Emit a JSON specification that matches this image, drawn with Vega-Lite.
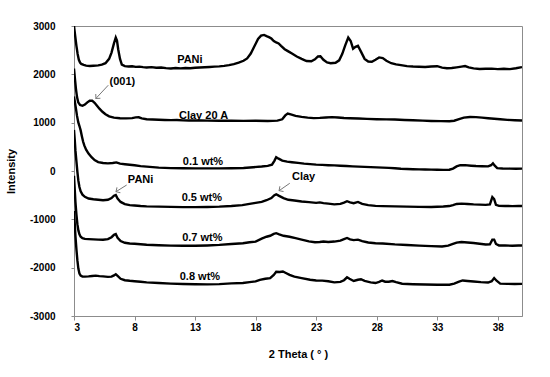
{
"$schema": "https://vega.github.io/schema/vega-lite/v6.json",
"width": 448, "height": 290,
"autosize": "none",
"padding": {"left": 74, "top": 26, "right": 28, "bottom": 61},
"background": "white",
"config": {"view": {"stroke": "#8c8c8c", "strokeWidth": 1}, "font": "Liberation Sans"},
"layer": [
{
"data": {"values": [
{"s":"PANi","x":3.0,"y":3000},{"s":"PANi","x":3.1,"y":2790},{"s":"PANi","x":3.2,"y":2590},{"s":"PANi","x":3.3,"y":2420},{"s":"PANi","x":3.4,"y":2300},{"s":"PANi","x":3.5,"y":2245},{"s":"PANi","x":3.6,"y":2215},{"s":"PANi","x":3.8,"y":2195},{"s":"PANi","x":4.0,"y":2180},{"s":"PANi","x":4.3,"y":2172},{"s":"PANi","x":4.6,"y":2178},{"s":"PANi","x":5.0,"y":2185},{"s":"PANi","x":5.3,"y":2200},{"s":"PANi","x":5.6,"y":2230},{"s":"PANi","x":5.9,"y":2320},{"s":"PANi","x":6.1,"y":2450},{"s":"PANi","x":6.3,"y":2640},{"s":"PANi","x":6.45,"y":2760},{"s":"PANi","x":6.55,"y":2700},{"s":"PANi","x":6.65,"y":2520},{"s":"PANi","x":6.8,"y":2320},{"s":"PANi","x":6.95,"y":2200},{"s":"PANi","x":7.2,"y":2170},{"s":"PANi","x":7.5,"y":2162},{"s":"PANi","x":7.8,"y":2168},{"s":"PANi","x":8.1,"y":2155},{"s":"PANi","x":8.4,"y":2160},{"s":"PANi","x":8.7,"y":2148},{"s":"PANi","x":9.0,"y":2142},{"s":"PANi","x":9.4,"y":2150},{"s":"PANi","x":9.8,"y":2135},{"s":"PANi","x":10.2,"y":2140},{"s":"PANi","x":10.6,"y":2128},{"s":"PANi","x":11.0,"y":2122},{"s":"PANi","x":11.4,"y":2132},{"s":"PANi","x":11.8,"y":2124},{"s":"PANi","x":12.2,"y":2130},{"s":"PANi","x":12.6,"y":2126},{"s":"PANi","x":13.0,"y":2136},{"s":"PANi","x":13.4,"y":2140},{"s":"PANi","x":13.8,"y":2146},{"s":"PANi","x":14.2,"y":2152},{"s":"PANi","x":14.6,"y":2160},{"s":"PANi","x":15.0,"y":2165},{"s":"PANi","x":15.4,"y":2175},{"s":"PANi","x":15.8,"y":2190},{"s":"PANi","x":16.2,"y":2210},{"s":"PANi","x":16.6,"y":2240},{"s":"PANi","x":17.0,"y":2280},{"s":"PANi","x":17.3,"y":2330},{"s":"PANi","x":17.6,"y":2430},{"s":"PANi","x":17.9,"y":2580},{"s":"PANi","x":18.2,"y":2730},{"s":"PANi","x":18.45,"y":2800},{"s":"PANi","x":18.7,"y":2815},{"s":"PANi","x":18.9,"y":2790},{"s":"PANi","x":19.1,"y":2770},{"s":"PANi","x":19.3,"y":2740},{"s":"PANi","x":19.5,"y":2690},{"s":"PANi","x":19.7,"y":2660},{"s":"PANi","x":19.9,"y":2640},{"s":"PANi","x":20.1,"y":2590},{"s":"PANi","x":20.4,"y":2520},{"s":"PANi","x":20.7,"y":2475},{"s":"PANi","x":21.0,"y":2430},{"s":"PANi","x":21.4,"y":2370},{"s":"PANi","x":21.8,"y":2320},{"s":"PANi","x":22.2,"y":2275},{"s":"PANi","x":22.6,"y":2270},{"s":"PANi","x":22.9,"y":2310},{"s":"PANi","x":23.15,"y":2370},{"s":"PANi","x":23.35,"y":2375},{"s":"PANi","x":23.6,"y":2300},{"s":"PANi","x":23.9,"y":2245},{"s":"PANi","x":24.2,"y":2230},{"s":"PANi","x":24.6,"y":2240},{"s":"PANi","x":24.9,"y":2290},{"s":"PANi","x":25.15,"y":2420},{"s":"PANi","x":25.4,"y":2600},{"s":"PANi","x":25.65,"y":2760},{"s":"PANi","x":25.85,"y":2690},{"s":"PANi","x":26.05,"y":2530},{"s":"PANi","x":26.25,"y":2570},{"s":"PANi","x":26.45,"y":2590},{"s":"PANi","x":26.7,"y":2470},{"s":"PANi","x":27.0,"y":2320},{"s":"PANi","x":27.3,"y":2265},{"s":"PANi","x":27.6,"y":2260},{"s":"PANi","x":27.9,"y":2300},{"s":"PANi","x":28.2,"y":2350},{"s":"PANi","x":28.5,"y":2335},{"s":"PANi","x":28.8,"y":2280},{"s":"PANi","x":29.2,"y":2230},{"s":"PANi","x":29.6,"y":2205},{"s":"PANi","x":30.0,"y":2190},{"s":"PANi","x":30.5,"y":2170},{"s":"PANi","x":31.0,"y":2162},{"s":"PANi","x":31.5,"y":2158},{"s":"PANi","x":32.0,"y":2152},{"s":"PANi","x":32.5,"y":2162},{"s":"PANi","x":33.0,"y":2168},{"s":"PANi","x":33.4,"y":2140},{"s":"PANi","x":33.8,"y":2126},{"s":"PANi","x":34.2,"y":2132},{"s":"PANi","x":34.6,"y":2145},{"s":"PANi","x":35.0,"y":2160},{"s":"PANi","x":35.3,"y":2172},{"s":"PANi","x":35.6,"y":2145},{"s":"PANi","x":36.0,"y":2122},{"s":"PANi","x":36.5,"y":2110},{"s":"PANi","x":37.0,"y":2116},{"s":"PANi","x":37.5,"y":2118},{"s":"PANi","x":38.0,"y":2108},{"s":"PANi","x":38.5,"y":2115},{"s":"PANi","x":39.0,"y":2108},{"s":"PANi","x":39.5,"y":2125},{"s":"PANi","x":40.0,"y":2150},
{"s":"Clay","x":3.0,"y":2120},{"s":"Clay","x":3.08,"y":1900},{"s":"Clay","x":3.16,"y":1700},{"s":"Clay","x":3.25,"y":1530},{"s":"Clay","x":3.35,"y":1420},{"s":"Clay","x":3.5,"y":1365},{"s":"Clay","x":3.7,"y":1350},{"s":"Clay","x":3.9,"y":1375},{"s":"Clay","x":4.1,"y":1420},{"s":"Clay","x":4.3,"y":1455},{"s":"Clay","x":4.5,"y":1455},{"s":"Clay","x":4.7,"y":1410},{"s":"Clay","x":4.9,"y":1350},{"s":"Clay","x":5.1,"y":1290},{"s":"Clay","x":5.35,"y":1225},{"s":"Clay","x":5.6,"y":1175},{"s":"Clay","x":5.9,"y":1130},{"s":"Clay","x":6.3,"y":1105},{"s":"Clay","x":6.8,"y":1092},{"s":"Clay","x":7.3,"y":1088},{"s":"Clay","x":7.8,"y":1095},{"s":"Clay","x":8.1,"y":1110},{"s":"Clay","x":8.35,"y":1112},{"s":"Clay","x":8.6,"y":1090},{"s":"Clay","x":9.0,"y":1072},{"s":"Clay","x":9.5,"y":1065},{"s":"Clay","x":10,"y":1060},{"s":"Clay","x":10.5,"y":1056},{"s":"Clay","x":11,"y":1052},{"s":"Clay","x":11.5,"y":1054},{"s":"Clay","x":12,"y":1048},{"s":"Clay","x":12.5,"y":1046},{"s":"Clay","x":13,"y":1044},{"s":"Clay","x":13.5,"y":1046},{"s":"Clay","x":14,"y":1042},{"s":"Clay","x":15,"y":1040},{"s":"Clay","x":16,"y":1042},{"s":"Clay","x":17,"y":1038},{"s":"Clay","x":18,"y":1040},{"s":"Clay","x":19,"y":1036},{"s":"Clay","x":19.8,"y":1042},{"s":"Clay","x":20.2,"y":1070},{"s":"Clay","x":20.45,"y":1150},{"s":"Clay","x":20.65,"y":1190},{"s":"Clay","x":20.9,"y":1170},{"s":"Clay","x":21.3,"y":1140},{"s":"Clay","x":21.8,"y":1120},{"s":"Clay","x":22.3,"y":1105},{"s":"Clay","x":22.8,"y":1095},{"s":"Clay","x":23.3,"y":1100},{"s":"Clay","x":23.8,"y":1108},{"s":"Clay","x":24.3,"y":1115},{"s":"Clay","x":24.8,"y":1108},{"s":"Clay","x":25.3,"y":1098},{"s":"Clay","x":25.8,"y":1092},{"s":"Clay","x":26.5,"y":1086},{"s":"Clay","x":27.2,"y":1078},{"s":"Clay","x":28,"y":1072},{"s":"Clay","x":28.8,"y":1068},{"s":"Clay","x":29.5,"y":1064},{"s":"Clay","x":30.3,"y":1056},{"s":"Clay","x":31,"y":1050},{"s":"Clay","x":31.8,"y":1042},{"s":"Clay","x":32.5,"y":1036},{"s":"Clay","x":33.3,"y":1032},{"s":"Clay","x":34.0,"y":1030},{"s":"Clay","x":34.4,"y":1040},{"s":"Clay","x":34.8,"y":1075},{"s":"Clay","x":35.2,"y":1105},{"s":"Clay","x":35.7,"y":1118},{"s":"Clay","x":36.2,"y":1115},{"s":"Clay","x":36.7,"y":1105},{"s":"Clay","x":37.2,"y":1092},{"s":"Clay","x":37.7,"y":1080},{"s":"Clay","x":38.2,"y":1070},{"s":"Clay","x":38.8,"y":1058},{"s":"Clay","x":39.4,"y":1050},{"s":"Clay","x":40,"y":1045},
{"s":"w01","x":3.0,"y":1540},{"s":"w01","x":3.08,"y":1420},{"s":"w01","x":3.16,"y":1290},{"s":"w01","x":3.25,"y":1140},{"s":"w01","x":3.35,"y":1010},{"s":"w01","x":3.45,"y":930},{"s":"w01","x":3.55,"y":840},{"s":"w01","x":3.65,"y":720},{"s":"w01","x":3.75,"y":610},{"s":"w01","x":3.85,"y":530},{"s":"w01","x":4.0,"y":440},{"s":"w01","x":4.2,"y":360},{"s":"w01","x":4.45,"y":285},{"s":"w01","x":4.7,"y":225},{"s":"w01","x":5.0,"y":185},{"s":"w01","x":5.4,"y":165},{"s":"w01","x":5.8,"y":158},{"s":"w01","x":6.2,"y":165},{"s":"w01","x":6.5,"y":178},{"s":"w01","x":6.8,"y":152},{"s":"w01","x":7.2,"y":140},{"s":"w01","x":7.6,"y":128},{"s":"w01","x":8.0,"y":118},{"s":"w01","x":8.5,"y":102},{"s":"w01","x":9.0,"y":90},{"s":"w01","x":9.5,"y":80},{"s":"w01","x":10,"y":70},{"s":"w01","x":10.5,"y":64},{"s":"w01","x":11,"y":60},{"s":"w01","x":12,"y":56},{"s":"w01","x":13,"y":55},{"s":"w01","x":14,"y":55},{"s":"w01","x":15,"y":54},{"s":"w01","x":16,"y":56},{"s":"w01","x":17,"y":62},{"s":"w01","x":17.8,"y":78},{"s":"w01","x":18.5,"y":92},{"s":"w01","x":19.0,"y":105},{"s":"w01","x":19.35,"y":130},{"s":"w01","x":19.55,"y":210},{"s":"w01","x":19.7,"y":285},{"s":"w01","x":19.9,"y":255},{"s":"w01","x":20.2,"y":215},{"s":"w01","x":20.6,"y":195},{"s":"w01","x":21,"y":182},{"s":"w01","x":21.5,"y":168},{"s":"w01","x":22,"y":152},{"s":"w01","x":22.5,"y":142},{"s":"w01","x":23,"y":132},{"s":"w01","x":23.5,"y":126},{"s":"w01","x":24,"y":120},{"s":"w01","x":24.5,"y":116},{"s":"w01","x":25,"y":108},{"s":"w01","x":25.5,"y":102},{"s":"w01","x":26,"y":95},{"s":"w01","x":26.5,"y":90},{"s":"w01","x":27,"y":85},{"s":"w01","x":27.5,"y":80},{"s":"w01","x":28,"y":74},{"s":"w01","x":28.5,"y":70},{"s":"w01","x":29,"y":64},{"s":"w01","x":29.5,"y":56},{"s":"w01","x":30,"y":46},{"s":"w01","x":30.5,"y":40},{"s":"w01","x":31,"y":36},{"s":"w01","x":31.5,"y":33},{"s":"w01","x":32,"y":30},{"s":"w01","x":32.5,"y":28},{"s":"w01","x":33,"y":26},{"s":"w01","x":33.5,"y":24},{"s":"w01","x":34,"y":26},{"s":"w01","x":34.3,"y":50},{"s":"w01","x":34.6,"y":95},{"s":"w01","x":34.9,"y":120},{"s":"w01","x":35.3,"y":122},{"s":"w01","x":35.8,"y":110},{"s":"w01","x":36.2,"y":102},{"s":"w01","x":36.7,"y":98},{"s":"w01","x":37.2,"y":96},{"s":"w01","x":37.45,"y":120},{"s":"w01","x":37.6,"y":160},{"s":"w01","x":37.75,"y":110},{"s":"w01","x":37.95,"y":60},{"s":"w01","x":38.4,"y":52},{"s":"w01","x":39,"y":50},{"s":"w01","x":39.5,"y":48},{"s":"w01","x":40,"y":50},
{"s":"w05","x":3.0,"y":850},{"s":"w05","x":3.06,"y":650},{"s":"w05","x":3.12,"y":420},{"s":"w05","x":3.2,"y":200},{"s":"w05","x":3.28,"y":-20},{"s":"w05","x":3.36,"y":-200},{"s":"w05","x":3.45,"y":-330},{"s":"w05","x":3.55,"y":-420},{"s":"w05","x":3.7,"y":-490},{"s":"w05","x":3.9,"y":-535},{"s":"w05","x":4.2,"y":-570},{"s":"w05","x":4.6,"y":-585},{"s":"w05","x":5.0,"y":-595},{"s":"w05","x":5.4,"y":-605},{"s":"w05","x":5.8,"y":-595},{"s":"w05","x":6.1,"y":-560},{"s":"w05","x":6.3,"y":-510},{"s":"w05","x":6.45,"y":-495},{"s":"w05","x":6.6,"y":-570},{"s":"w05","x":6.85,"y":-640},{"s":"w05","x":7.2,"y":-685},{"s":"w05","x":7.6,"y":-705},{"s":"w05","x":8.0,"y":-715},{"s":"w05","x":8.5,"y":-725},{"s":"w05","x":9,"y":-732},{"s":"w05","x":10,"y":-738},{"s":"w05","x":11,"y":-742},{"s":"w05","x":12,"y":-748},{"s":"w05","x":13,"y":-748},{"s":"w05","x":14,"y":-744},{"s":"w05","x":15,"y":-738},{"s":"w05","x":16,"y":-725},{"s":"w05","x":16.9,"y":-705},{"s":"w05","x":17.5,"y":-680},{"s":"w05","x":18.0,"y":-660},{"s":"w05","x":18.5,"y":-640},{"s":"w05","x":18.9,"y":-605},{"s":"w05","x":19.3,"y":-560},{"s":"w05","x":19.55,"y":-500},{"s":"w05","x":19.7,"y":-482},{"s":"w05","x":19.9,"y":-510},{"s":"w05","x":20.3,"y":-560},{"s":"w05","x":20.7,"y":-595},{"s":"w05","x":21.2,"y":-610},{"s":"w05","x":21.8,"y":-630},{"s":"w05","x":22.4,"y":-645},{"s":"w05","x":23.0,"y":-660},{"s":"w05","x":23.3,"y":-650},{"s":"w05","x":23.6,"y":-665},{"s":"w05","x":24.0,"y":-675},{"s":"w05","x":24.5,"y":-690},{"s":"w05","x":25.0,"y":-680},{"s":"w05","x":25.3,"y":-655},{"s":"w05","x":25.55,"y":-625},{"s":"w05","x":25.8,"y":-650},{"s":"w05","x":26.1,"y":-665},{"s":"w05","x":26.45,"y":-640},{"s":"w05","x":26.8,"y":-680},{"s":"w05","x":27.3,"y":-705},{"s":"w05","x":27.9,"y":-722},{"s":"w05","x":28.5,"y":-726},{"s":"w05","x":29.5,"y":-732},{"s":"w05","x":30.5,"y":-738},{"s":"w05","x":31.5,"y":-742},{"s":"w05","x":32.5,"y":-746},{"s":"w05","x":33.5,"y":-735},{"s":"w05","x":34.0,"y":-725},{"s":"w05","x":34.3,"y":-705},{"s":"w05","x":34.6,"y":-682},{"s":"w05","x":35.0,"y":-675},{"s":"w05","x":35.5,"y":-682},{"s":"w05","x":36.0,"y":-690},{"s":"w05","x":36.5,"y":-695},{"s":"w05","x":37.0,"y":-700},{"s":"w05","x":37.35,"y":-690},{"s":"w05","x":37.55,"y":-540},{"s":"w05","x":37.7,"y":-580},{"s":"w05","x":37.85,"y":-700},{"s":"w05","x":38.1,"y":-722},{"s":"w05","x":38.6,"y":-724},{"s":"w05","x":39.2,"y":-726},{"s":"w05","x":39.7,"y":-722},{"s":"w05","x":40,"y":-724},
{"s":"w07","x":3.0,"y":-100},{"s":"w07","x":3.06,"y":-380},{"s":"w07","x":3.12,"y":-650},{"s":"w07","x":3.2,"y":-900},{"s":"w07","x":3.28,"y":-1100},{"s":"w07","x":3.36,"y":-1230},{"s":"w07","x":3.45,"y":-1310},{"s":"w07","x":3.55,"y":-1360},{"s":"w07","x":3.7,"y":-1390},{"s":"w07","x":3.9,"y":-1405},{"s":"w07","x":4.2,"y":-1410},{"s":"w07","x":4.6,"y":-1415},{"s":"w07","x":5.0,"y":-1420},{"s":"w07","x":5.4,"y":-1422},{"s":"w07","x":5.8,"y":-1410},{"s":"w07","x":6.1,"y":-1370},{"s":"w07","x":6.3,"y":-1320},{"s":"w07","x":6.45,"y":-1305},{"s":"w07","x":6.6,"y":-1380},{"s":"w07","x":6.85,"y":-1450},{"s":"w07","x":7.2,"y":-1485},{"s":"w07","x":7.6,"y":-1500},{"s":"w07","x":8.0,"y":-1505},{"s":"w07","x":8.5,"y":-1515},{"s":"w07","x":9,"y":-1525},{"s":"w07","x":10,"y":-1535},{"s":"w07","x":11,"y":-1545},{"s":"w07","x":12,"y":-1548},{"s":"w07","x":13,"y":-1548},{"s":"w07","x":14,"y":-1540},{"s":"w07","x":15,"y":-1528},{"s":"w07","x":16,"y":-1510},{"s":"w07","x":16.95,"y":-1494},{"s":"w07","x":17.5,"y":-1475},{"s":"w07","x":18.0,"y":-1460},{"s":"w07","x":18.5,"y":-1400},{"s":"w07","x":18.9,"y":-1360},{"s":"w07","x":19.2,"y":-1340},{"s":"w07","x":19.5,"y":-1300},{"s":"w07","x":19.7,"y":-1287},{"s":"w07","x":19.95,"y":-1310},{"s":"w07","x":20.3,"y":-1340},{"s":"w07","x":20.8,"y":-1360},{"s":"w07","x":21.3,"y":-1390},{"s":"w07","x":21.8,"y":-1420},{"s":"w07","x":22.4,"y":-1455},{"s":"w07","x":22.9,"y":-1475},{"s":"w07","x":23.3,"y":-1470},{"s":"w07","x":23.6,"y":-1460},{"s":"w07","x":24.0,"y":-1470},{"s":"w07","x":24.5,"y":-1460},{"s":"w07","x":25.0,"y":-1440},{"s":"w07","x":25.3,"y":-1410},{"s":"w07","x":25.55,"y":-1385},{"s":"w07","x":25.8,"y":-1415},{"s":"w07","x":26.1,"y":-1430},{"s":"w07","x":26.45,"y":-1420},{"s":"w07","x":26.8,"y":-1450},{"s":"w07","x":27.3,"y":-1480},{"s":"w07","x":27.9,"y":-1495},{"s":"w07","x":28.5,"y":-1500},{"s":"w07","x":29.5,"y":-1518},{"s":"w07","x":30.5,"y":-1530},{"s":"w07","x":31.5,"y":-1545},{"s":"w07","x":32.5,"y":-1555},{"s":"w07","x":33.4,"y":-1563},{"s":"w07","x":33.9,"y":-1545},{"s":"w07","x":34.3,"y":-1510},{"s":"w07","x":34.6,"y":-1482},{"s":"w07","x":35.0,"y":-1470},{"s":"w07","x":35.5,"y":-1478},{"s":"w07","x":36.0,"y":-1490},{"s":"w07","x":36.5,"y":-1505},{"s":"w07","x":37.0,"y":-1520},{"s":"w07","x":37.35,"y":-1515},{"s":"w07","x":37.55,"y":-1420},{"s":"w07","x":37.7,"y":-1420},{"s":"w07","x":37.85,"y":-1510},{"s":"w07","x":38.1,"y":-1540},{"s":"w07","x":38.6,"y":-1542},{"s":"w07","x":39.2,"y":-1545},{"s":"w07","x":39.7,"y":-1540},{"s":"w07","x":40,"y":-1542},
{"s":"w08","x":3.0,"y":-830},{"s":"w08","x":3.06,"y":-1080},{"s":"w08","x":3.12,"y":-1350},{"s":"w08","x":3.2,"y":-1620},{"s":"w08","x":3.28,"y":-1850},{"s":"w08","x":3.36,"y":-2020},{"s":"w08","x":3.45,"y":-2120},{"s":"w08","x":3.55,"y":-2165},{"s":"w08","x":3.7,"y":-2185},{"s":"w08","x":3.9,"y":-2185},{"s":"w08","x":4.2,"y":-2180},{"s":"w08","x":4.5,"y":-2172},{"s":"w08","x":4.8,"y":-2165},{"s":"w08","x":5.1,"y":-2175},{"s":"w08","x":5.4,"y":-2180},{"s":"w08","x":5.8,"y":-2190},{"s":"w08","x":6.1,"y":-2185},{"s":"w08","x":6.3,"y":-2160},{"s":"w08","x":6.45,"y":-2135},{"s":"w08","x":6.6,"y":-2170},{"s":"w08","x":6.85,"y":-2230},{"s":"w08","x":7.2,"y":-2260},{"s":"w08","x":7.6,"y":-2272},{"s":"w08","x":8.0,"y":-2280},{"s":"w08","x":8.5,"y":-2292},{"s":"w08","x":9,"y":-2305},{"s":"w08","x":10,"y":-2318},{"s":"w08","x":11,"y":-2330},{"s":"w08","x":12,"y":-2338},{"s":"w08","x":13,"y":-2342},{"s":"w08","x":14,"y":-2345},{"s":"w08","x":15,"y":-2340},{"s":"w08","x":16,"y":-2325},{"s":"w08","x":16.95,"y":-2318},{"s":"w08","x":17.5,"y":-2300},{"s":"w08","x":18.0,"y":-2285},{"s":"w08","x":18.35,"y":-2251},{"s":"w08","x":18.8,"y":-2230},{"s":"w08","x":19.2,"y":-2217},{"s":"w08","x":19.5,"y":-2150},{"s":"w08","x":19.7,"y":-2085},{"s":"w08","x":20.0,"y":-2090},{"s":"w08","x":20.25,"y":-2080},{"s":"w08","x":20.5,"y":-2110},{"s":"w08","x":20.8,"y":-2148},{"s":"w08","x":21.2,"y":-2185},{"s":"w08","x":21.8,"y":-2215},{"s":"w08","x":22.5,"y":-2250},{"s":"w08","x":23.0,"y":-2265},{"s":"w08","x":23.5,"y":-2268},{"s":"w08","x":24.0,"y":-2280},{"s":"w08","x":24.5,"y":-2305},{"s":"w08","x":25.0,"y":-2295},{"s":"w08","x":25.3,"y":-2260},{"s":"w08","x":25.55,"y":-2200},{"s":"w08","x":25.75,"y":-2230},{"s":"w08","x":26.1,"y":-2275},{"s":"w08","x":26.45,"y":-2250},{"s":"w08","x":26.7,"y":-2240},{"s":"w08","x":27.0,"y":-2275},{"s":"w08","x":27.5,"y":-2305},{"s":"w08","x":27.9,"y":-2318},{"s":"w08","x":28.2,"y":-2295},{"s":"w08","x":28.45,"y":-2266},{"s":"w08","x":28.7,"y":-2290},{"s":"w08","x":29.0,"y":-2292},{"s":"w08","x":29.3,"y":-2276},{"s":"w08","x":29.6,"y":-2300},{"s":"w08","x":30.1,"y":-2333},{"s":"w08","x":31,"y":-2342},{"s":"w08","x":32,"y":-2348},{"s":"w08","x":33,"y":-2352},{"s":"w08","x":34,"y":-2354},{"s":"w08","x":34.4,"y":-2330},{"s":"w08","x":34.8,"y":-2290},{"s":"w08","x":35.1,"y":-2265},{"s":"w08","x":35.5,"y":-2275},{"s":"w08","x":36.0,"y":-2285},{"s":"w08","x":36.6,"y":-2300},{"s":"w08","x":37.2,"y":-2307},{"s":"w08","x":37.5,"y":-2280},{"s":"w08","x":37.7,"y":-2215},{"s":"w08","x":37.9,"y":-2270},{"s":"w08","x":38.2,"y":-2330},{"s":"w08","x":38.8,"y":-2335},{"s":"w08","x":39.4,"y":-2338},{"s":"w08","x":40,"y":-2335}
]},
"mark": {"type": "line", "color": "black", "strokeWidth": 2.4, "clip": true},
"encoding": {
"x": {"field": "x", "type": "quantitative", "scale": {"domain": [3, 40], "nice": false, "zero": false},
"axis": {"values": [3, 8, 13, 18, 23, 28, 33, 38], "grid": false, "domainColor": "#8c8c8c", "tickColor": "#8c8c8c", "tickSize": 4, "labelFont": "Liberation Sans", "labelFontWeight": "bold", "labelFontSize": 10, "labelColor": "black", "labelPadding": 2, "title": "2 Theta  ( ° )", "titleFont": "Liberation Sans", "titleFontWeight": "bold", "titleFontSize": 11, "titleColor": "black", "titlePadding": 16}},
"y": {"field": "y", "type": "quantitative", "scale": {"domain": [-3000, 3000], "nice": false, "zero": false},
"axis": {"values": [-3000, -2000, -1000, 0, 1000, 2000, 3000], "labelExpr": "datum.value + ''", "grid": false, "domainColor": "#8c8c8c", "tickColor": "#8c8c8c", "tickSize": 3, "labelFont": "Liberation Sans", "labelFontWeight": "bold", "labelFontSize": 10, "labelColor": "black", "labelPadding": 16, "title": "Intensity", "titleFont": "Liberation Sans", "titleFontWeight": "bold", "titleFontSize": 11, "titleColor": "black", "titlePadding": 13}},
"detail": {"field": "s"}
}
},
{
"data": {"values": [
{"t": "PANi", "x": 12.57, "y": 2292},
{"t": "Clay 20 A", "x": 13.7, "y": 1135},
{"t": "0.1 wt%", "x": 13.65, "y": 192},
{"t": "0.5 wt%", "x": 13.56, "y": -565},
{"t": "0.7 wt%", "x": 13.6, "y": -1378},
{"t": "0.8 wt%", "x": 13.4, "y": -2196},
{"t": "(001)", "x": 7.0, "y": 1844},
{"t": "PANi", "x": 8.5, "y": -190},
{"t": "Clay", "x": 21.96, "y": -131}
]},
"mark": {"type": "text", "font": "Liberation Sans", "fontWeight": "bold", "fontSize": 11, "color": "black", "align": "center", "baseline": "middle"},
"encoding": {
"x": {"field": "x", "type": "quantitative"},
"y": {"field": "y", "type": "quantitative"},
"text": {"field": "t"}
}
},
{
"data": {"values": [
{"x": 5.83, "y": 1775, "x2": 4.81, "y2": 1501},
{"x": 7.35, "y": -290, "x2": 6.47, "y2": -428},
{"x": 20.82, "y": -254, "x2": 19.94, "y2": -407}
]},
"mark": {"type": "rule", "color": "#777777", "strokeWidth": 1},
"encoding": {
"x": {"field": "x", "type": "quantitative"},
"y": {"field": "y", "type": "quantitative"},
"x2": {"field": "x2"},
"y2": {"field": "y2"}
}
},
{
"data": {"values": [
{"x": 4.81, "y": 1501, "a": 223},
{"x": 6.47, "y": -428, "a": 238},
{"x": 19.94, "y": -407, "a": 235}
]},
"mark": {"type": "point", "shape": "M-1,1L0,0L1,1", "filled": false, "color": "#777777", "strokeWidth": 1, "size": 40, "opacity": 1},
"encoding": {
"x": {"field": "x", "type": "quantitative"},
"y": {"field": "y", "type": "quantitative"},
"angle": {"field": "a", "type": "quantitative", "scale": null}
}
}
]
}
